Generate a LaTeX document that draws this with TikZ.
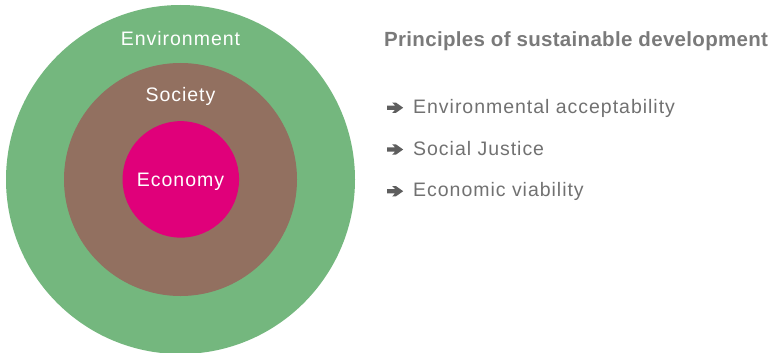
\documentclass[tikz,border=0pt]{standalone}
\usepackage{fontspec}
\setmainfont{Liberation Sans}
\definecolor{envgreen}{HTML}{74B77E}
\definecolor{socbrown}{HTML}{927060}
\definecolor{ecopink}{HTML}{E0007A}
\definecolor{titlegray}{HTML}{7A7A7A}
\definecolor{itemgray}{HTML}{717171}
\definecolor{arrowgray}{HTML}{5E5E5E}
\tikzset{
  ring/.style={circle, inner sep=0pt, draw=none},
  ringlabel/.style={anchor=base, inner sep=0pt, text=white,
    font=\fontsize{19.5pt}{22pt}\selectfont\addfontfeature{LetterSpace=5}},
  titletext/.style={anchor=base west, inner sep=0pt, text=titlegray,
    font=\fontsize{20.5pt}{24pt}\selectfont\bfseries\addfontfeature{LetterSpace=1.5}},
  itemtext/.style={anchor=base west, inner sep=0pt, text=itemgray,
    font=\fontsize{19.5pt}{22pt}\selectfont\addfontfeature{LetterSpace=5}},
  bulletarrow/.pic={
    \fill[arrowgray] (0,-2.2) -- (8.0,-2.2) -- (5.2,-5.2) -- (8.8,-5.2) -- (16.2,0)
      -- (8.8,5.2) -- (5.2,5.2) -- (8.0,2.2) -- (0,2.2) -- cycle;
  },
}
\begin{document}
\begin{tikzpicture}[x=1pt,y=-1pt]
\useasboundingbox (0,0) rectangle (773,353);
\node[ring, fill=envgreen, minimum size=349pt] (env) at (180.5,179.5) {};
\node[ring, fill=socbrown, minimum size=233pt] (soc) at (180.5,179.5) {};
\node[ring, fill=ecopink, minimum size=116.5pt] (eco) at (180.8,179.4) {};
\node[ringlabel] (envl) at (180.5,45.7) {Environment};
\node[ringlabel] (socl) at (180.5,101.7) {Society};
\node[ringlabel] (ecol) at (180.5,186) {Economy};
\node[titletext] (title) at (384,47) {Principles of sustainable development};
\pic (a1) at (387,107.7) {bulletarrow};
\node[itemtext] (i1) at (413,113.2) {Environmental acceptability};
\pic (a2) at (387,149.5) {bulletarrow};
\node[itemtext] (i2) at (413,155) {Social Justice};
\pic (a3) at (387,191.2) {bulletarrow};
\node[itemtext] (i3) at (413,196.7) {Economic viability};
\end{tikzpicture}
\end{document}
